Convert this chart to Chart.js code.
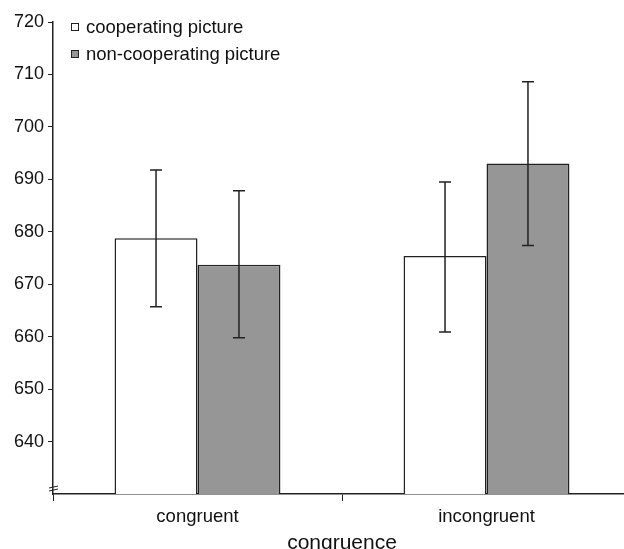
<!DOCTYPE html>
<html>
<head>
<meta charset="utf-8">
<script src="https://cdn.jsdelivr.net/npm/chart.js@4.4.0/dist/chart.umd.min.js"></script>
<style>
  html, body { margin: 0; padding: 0; background: #fff; overflow: hidden; }
  #wrap { position: relative; width: 624px; height: 549px; overflow: hidden; }
  #chart { position: absolute; left: 0; top: 0; }
  .legend { position: absolute; left: 71px; top: 13px; font: 18.5px "Liberation Sans", Arial, sans-serif; color: #111; }
  .legend div { display: flex; align-items: center; height: 27px; }
  .legend span.box { display: inline-block; width: 6px; height: 6px; border: 1px solid #222; margin-right: 7px; }
</style>
</head>
<body>
<div id="wrap">
  <canvas id="chart" width="640" height="556"></canvas>
  <div class="legend">
    <div><span class="box" style="background:#fff"></span>cooperating picture</div>
    <div><span class="box" style="background:#969696"></span>non-cooperating picture</div>
  </div>
</div>
<script>
const categories = ['congruent', 'incongruent'];
const seriesNames = ['cooperating picture', 'non-cooperating picture'];
const cooperating = [678.75, 675.4];
const cooperatingLow = [665.7, 660.9];
const cooperatingHigh = [691.8, 689.5];
const nonCooperating = [673.7, 693.0];
const nonCooperatingLow = [659.8, 677.4];
const nonCooperatingHigh = [687.8, 708.6];

const font = "'Liberation Sans', Arial, sans-serif";

const errorBars = {
  id: 'errorBars',
  afterDatasetsDraw(chart) {
    const ctx = chart.ctx;
    const y = chart.scales.y;
    const ranges = [[cooperatingLow, cooperatingHigh], [nonCooperatingLow, nonCooperatingHigh]];
    ctx.save();
    ctx.strokeStyle = '#222';
    ctx.lineWidth = 1.5;
    ranges.forEach(([lo, hi], di) => {
      chart.getDatasetMeta(di).data.forEach((bar, i) => {
        const x = bar.x;
        const yl = y.getPixelForValue(lo[i]);
        const yh = y.getPixelForValue(hi[i]);
        ctx.beginPath();
        ctx.moveTo(x, yl); ctx.lineTo(x, yh);
        ctx.moveTo(x - 6, yl); ctx.lineTo(x + 6, yl);
        ctx.moveTo(x - 6, yh); ctx.lineTo(x + 6, yh);
        ctx.stroke();
      });
    });
    // axis break mark
    const xa = chart.chartArea.left;
    const yb = chart.chartArea.bottom - 5;
    ctx.lineWidth = 1;
    ctx.beginPath();
    ctx.moveTo(xa - 4, yb - 1); ctx.lineTo(xa + 5, yb - 3);
    ctx.moveTo(xa - 4, yb + 2); ctx.lineTo(xa + 5, yb);
    ctx.stroke();
    ctx.restore();
  }
};

new Chart(document.getElementById('chart'), {
  type: 'bar',
  data: {
    labels: categories,
    datasets: [
      { label: seriesNames[0], data: cooperating, backgroundColor: '#fff', borderColor: '#222', borderWidth: 1.5, borderSkipped: false },
      { label: seriesNames[1], data: nonCooperating, backgroundColor: '#969696', borderColor: '#222', borderWidth: 1.5, borderSkipped: false }
    ]
  },
  options: {
    responsive: false,
    animation: false,
    layout: { padding: { top: 22, right: 9, left: 0, bottom: 0 } },
    datasets: { bar: { categoryPercentage: 0.574, barPercentage: 1 } },
    plugins: { legend: { display: false }, tooltip: { enabled: false } },
    scales: {
      x: {
        offset: true,
        afterFit: s => { s.height = 62; },
        grid: { offset: true, drawOnChartArea: false, drawTicks: true, tickLength: 7, color: '#222' },
        border: { display: true, color: '#222', width: 1.5 },
        ticks: { color: '#111', font: { family: font, size: 18.5 }, padding: 5 },
        title: { display: true, text: 'congruence', color: '#111', font: { family: font, size: 21 }, padding: { top: 0, bottom: 0 } }
      },
      y: {
        min: 630,
        max: 720,
        afterBuildTicks: s => { s.ticks = s.ticks.filter(t => t.value >= 640); },
        afterFit: s => { s.width = 53; },
        grid: { drawOnChartArea: false, drawTicks: true, tickLength: 5, color: '#222' },
        border: { display: true, color: '#222', width: 1.5 },
        ticks: { stepSize: 10, color: '#111', font: { family: font, size: 18 }, padding: 4 }
      }
    }
  },
  plugins: [errorBars]
});
</script>
</body>
</html>
